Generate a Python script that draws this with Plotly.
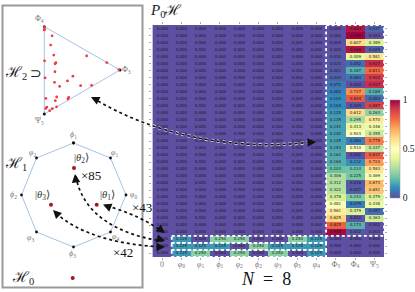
import numpy as np
import plotly.graph_objects as go

W, H = 415, 292

# --- data ---
col_labels = ["0", "<i>φ</i><sub>0</sub>", "<i>φ</i><sub>1</sub>", "<i>ϕ</i><sub>1</sub>",
              "<i>φ</i><sub>2</sub>", "<i>ϕ</i><sub>2</sub>", "<i>φ</i><sub>3</sub>",
              "<i>ϕ</i><sub>3</sub>", "<i>φ</i><sub>4</sub>",
              "Φ<sub>3</sub>", "Φ<sub>4</sub>", "Ψ<sub>5</sub>"]
phi3 = [.000, .002, .004, .003, .010, .020, .021, .033, .072, .084, .103, .104, .125, .135, .141,
        .142, .145, .153, .162, .164, .203, .306, .312, .322, .378, .481, .561, .625, .825, .985]
phi4 = [.963, .995, .607, .968, .409, .052, .167, .063, .000, .747, .844, .009, .612, .295, .413,
        .503, .080, .510, .002, .112, .214, .225, .016, .027, .243, .079, .379, .012, .173, .012]
psi5 = [.037, .003, .389, .029, .581, .927, .811, .904, .927, .169, .053, .887, .263, .570, .446,
        .355, .775, .337, .837, .724, .583, .469, .673, .651, .379, .438, .057, .363, .002, .003]
theta1 = [.125, .000, .250, .250, .000, .000, .250, .125]
theta2 = [.125, .125, .125, .000, .250, .125, .125, .125]
theta3 = [.125, .250, .000, .250, .000, .250, .000, .125]

# schematic geometry in page units
vertex_phi3 = (120.0, 70.0)
vertex_phi4 = (44.3, 26.7)
vertex_psi5 = (44.3, 114.0)
octagon_x = [73.5, 110.5, 126, 110.5, 73.5, 36.5, 21.5, 36.5]
octagon_y = [143, 158, 195, 232, 247, 232, 195, 158]
h1_states_x = [96.7, 74, 51]
h1_states_y = [204.7, 168, 204.7]
h0_state = (72.7, 278)

# --- matrix ---
z = np.zeros((33, 12))
z[:30, 9] = phi3
z[:30, 10] = phi4
z[:30, 11] = psi5
z[30, 1:9] = theta1
z[31, 1:9] = theta2
z[32, 1:9] = theta3

SERIF = "Liberation Serif"
SPECTRAL_R = ["#5e4fa2", "#3288bd", "#66c2a5", "#abdda4", "#e6f598", "#ffffbf",
              "#fee08b", "#fdae61", "#f46d43", "#d53e4f", "#9e0142"]

fig = go.Figure()
fig.add_trace(go.Heatmap(
    z=z, x=list(range(12)), y=list(range(33)), zmin=0, zmax=1,
    colorscale=SPECTRAL_R, texttemplate="%{z:.3f}", textfont=dict(size=4, color="#1a1a1a", family="DejaVu Sans"),
    hoverinfo="skip", xaxis="x", yaxis="y",
    colorbar=dict(x=389.5/W, xanchor="left", y=1-149/H, yanchor="middle", thicknessmode="pixels", thickness=10,
                  lenmode="pixels", len=98, xpad=0, ypad=0, outlinewidth=0.5, outlinecolor="#999",
                  tickvals=[0, .5, 1], ticktext=["0", "0.5", "1"], ticks="", ticklabelposition="outside",
                  tickfont=dict(size=9.6, family=SERIF, color="#222")),
))

# simplex points follow from the last three columns
va, vb, vc = map(np.array, (vertex_phi3, vertex_phi4, vertex_psi5))
weights = np.column_stack([phi3, phi4, psi5])
pts = weights @ np.vstack([va, vb, vc])

line_blue = "#a3c4e4"
fig.add_trace(go.Scatter(x=[va[0], vb[0], vc[0], va[0]], y=[va[1], vb[1], vc[1], va[1]], mode="lines",
                         line=dict(color=line_blue, width=1), xaxis="x2", yaxis="y2", hoverinfo="skip"))
fig.add_trace(go.Scatter(x=[va[0], vb[0], vc[0]], y=[va[1], vb[1], vc[1]], mode="markers",
                         marker=dict(color="#111", size=3), xaxis="x2", yaxis="y2", hoverinfo="skip"))
fig.add_trace(go.Scatter(x=pts[:, 0], y=pts[:, 1], mode="markers",
                         marker=dict(color="#ee3b45", size=2.8), xaxis="x2", yaxis="y2", hoverinfo="skip"))
fig.add_trace(go.Scatter(x=octagon_x + octagon_x[:1], y=octagon_y + octagon_y[:1], mode="lines+markers",
                         line=dict(color=line_blue, width=1), marker=dict(color="#111", size=2.8),
                         xaxis="x2", yaxis="y2", hoverinfo="skip"))
fig.add_trace(go.Scatter(x=h1_states_x + [h0_state[0]], y=h1_states_y + [h0_state[1]], mode="markers",
                         marker=dict(color="#9c1a1c", size=4), xaxis="x2", yaxis="y2", hoverinfo="skip"))

# outer box of the left panel
shapes = [dict(type="rect", xref="x2", yref="y2", x0=2.5, x1=142.5, y0=5.5, y1=287.5,
               line=dict(color="#9a9a9a", width=2), layer="below")]

# white dashed frames inside the matrix
white = dict(color="white", width=1.8, dash="3px,2.5px")
shapes.append(dict(type="rect", xref="x", yref="y", x0=8.5, x1=11.5, y0=-0.5, y1=29.5, line=white))
for r in (30, 31, 32):
    shapes.append(dict(type="rect", xref="x", yref="y", x0=0.5, x1=8.5, y0=r-.5, y1=r+.5, line=white))

# dashed arrows
black = dict(color="#111", width=1.7, dash="3px,3px")
halo = dict(color="white", width=3, dash="3px,3px")
curves = ["M 93 98 C 150 133, 230 152, 312 142",
          "M 76 176 C 82 215, 120 235, 162 241",
          "M 107 206 C 125 211, 145 219, 163 232",
          "M 56 213 C 80 235, 120 245, 163 247"]
shapes.append(dict(type="path", xref="x2", yref="y2", path=curves[0], line=halo))
for c in curves:
    shapes.append(dict(type="path", xref="x2", yref="y2", path=c, line=black))

arrowheads = [((97, 100), (91, 97)), ((308, 142.5), (316, 142)),
              ((76, 182), (75, 174)), ((109, 207), (103, 204.5)), ((58, 215), (53, 210)),
              ((157, 227), (165, 233)), ((157, 238.5), (165, 241)), ((157, 247), (165, 247))]
annotations = []
for (tx, ty), (hx, hy) in arrowheads:
    annotations.append(dict(x=hx, y=hy, ax=tx, ay=ty, xref="x2", yref="y2", axref="x2", ayref="y2", text="",
                            showarrow=True, arrowhead=2, arrowsize=1, arrowwidth=1.7, arrowcolor="#111"))


def label(x, y, text, size, color="#111", anchor="center", family=SERIF):
    annotations.append(dict(x=x, y=y, xref="x2", yref="y2", text=text, showarrow=False, xanchor=anchor,
                            yanchor="middle", font=dict(family=family, size=size, color=color)))


grey = "#777"
label(39, 18.5, "Φ<sub>4</sub>", 8, grey)
label(126, 70, "Φ<sub>3</sub>", 8, grey)
label(39, 121, "Ψ<sub>5</sub>", 8, grey)
label(73, 135, "<i>ϕ</i><sub>1</sub>", 8, grey)
label(114, 153, "<i>φ</i><sub>1</sub>", 8, grey)
label(32, 153, "<i>φ</i><sub>2</sub>", 8, grey)
label(13, 195, "<i>ϕ</i><sub>2</sub>", 8, grey)
label(133, 195, "<i>φ</i><sub>0</sub>", 8, grey)
label(30, 238, "<i>φ</i><sub>3</sub>", 8, grey)
label(115, 237, "<i>φ</i><sub>4</sub>", 8, grey)
label(72, 254, "<i>ϕ</i><sub>3</sub>", 8, grey)
label(16, 73, "ℋ<sub>2</sub>", 15, "#222")
label(36, 73, "⊃", 14, "#222", family="DejaVu Sans")
label(16, 164, "ℋ<sub>1</sub>", 15, "#222")
label(23, 278, "ℋ<sub>0</sub>", 15, "#222")
label(81, 158.5, "|<i>θ</i><sub>2</sub>⟩", 10.5, "#333")
label(107, 195, "|<i>θ</i><sub>1</sub>⟩", 10.5, "#333")
label(42, 195, "|<i>θ</i><sub>3</sub>⟩", 10.5, "#333")
label(91, 175, "×85", 13)
label(141.5, 207, "×43", 13)
label(122.5, 252, "×42", 13)
label(166, 11, "<i>P</i><sub>0</sub>ℋ", 15, "#222")
label(266, 279, "<i>N</i>\u00a0\u00a0=\u00a0\u00a08", 18)

fig.update_layout(
    width=W, height=H, margin=dict(l=0, r=0, t=0, b=0), paper_bgcolor="white", plot_bgcolor="rgba(0,0,0,0)",
    showlegend=False, shapes=shapes, annotations=annotations,
    xaxis=dict(domain=[152.4/W, 384/W], range=[-.5, 11.5], tickvals=list(range(12)), ticktext=col_labels,
               ticks="outside", ticklen=2, tickwidth=0.6, tickcolor="#aaa", mirror="ticks", showgrid=False,
               zeroline=False, tickfont=dict(size=8, family=SERIF, color=grey), tickangle=0, anchor="y",
               ticklabelstandoff=-3, automargin=False),
    yaxis=dict(domain=[1-257/H, 1-25/H], range=[32.5, -.5], tickvals=list(range(33)), showticklabels=False,
               ticks="outside", ticklen=2, tickwidth=0.6, tickcolor="#aaa", mirror="ticks", showgrid=False,
               zeroline=False, anchor="x", automargin=False),
    xaxis2=dict(domain=[0, 1], range=[0, W], visible=False, anchor="y2", fixedrange=True),
    yaxis2=dict(domain=[0, 1], range=[H, 0], visible=False, anchor="x2", fixedrange=True),
)

fig.write_html("out.html", config=dict(displayModeBar=False),
               post_script="document.body.style.margin='0';document.body.style.overflow='hidden';")
